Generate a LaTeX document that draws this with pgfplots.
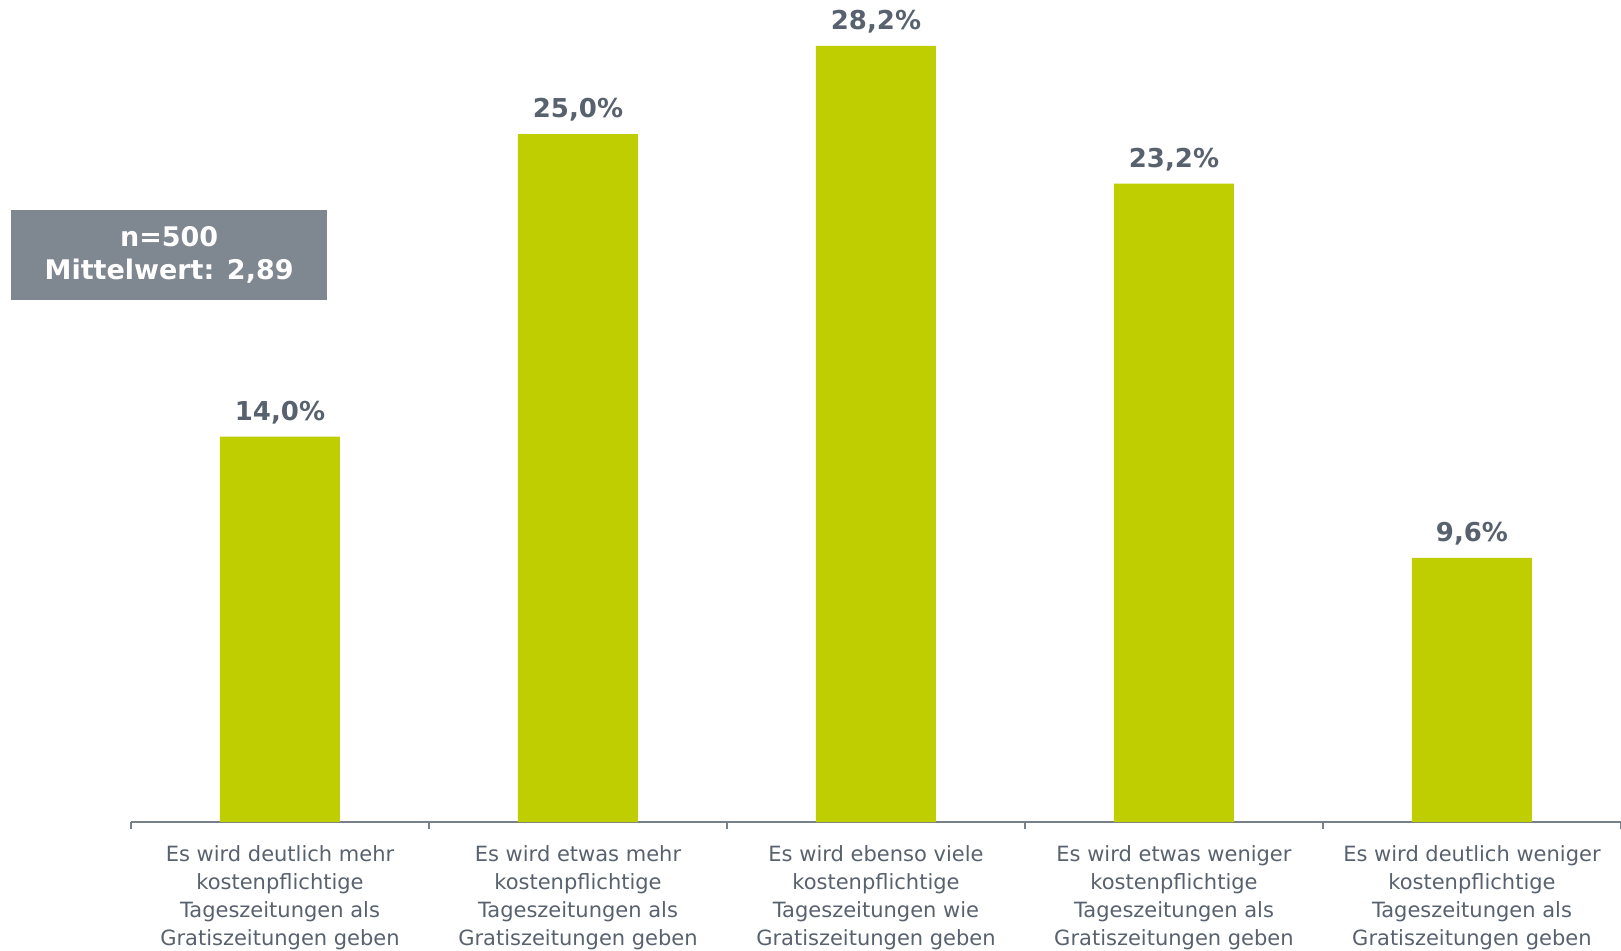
\documentclass[border=0pt]{standalone}
\usepackage{fontspec}
\setmainfont{DejaVu Sans}
\usepackage{pgfplots}
\pgfplotsset{compat=1.18}
\definecolor{barc}{RGB}{191,206,0}
\definecolor{txtc}{RGB}{88,98,110}
\definecolor{boxc}{RGB}{127,135,144}
\definecolor{linec}{RGB}{120,128,138}
\begin{document}
\begin{tikzpicture}
\begin{axis}[
    scale only axis,
    width=1490pt, height=822pt,
    ybar, bar width=120pt,
    ymin=0, ymax=29.87,
    xmin=-0.5, xmax=4.5,
    axis x line=bottom, axis y line=none,
    axis line style={-, linec, line width=1.2pt},
    xtick={0,1,2,3,4},
    major tick length=0pt,
    minor xtick={-0.5,0.5,1.5,2.5,3.5,4.5},
    minor tick length=7pt,
    tick align=outside,
    minor tick style={linec, line width=1.2pt},
    xticklabels={
      {Es wird deutlich mehr\\kostenpflichtige\\Tageszeitungen als\\Gratiszeitungen geben},
      {Es wird etwas mehr\\kostenpflichtige\\Tageszeitungen als\\Gratiszeitungen geben},
      {Es wird ebenso viele\\kostenpflichtige\\Tageszeitungen wie\\Gratiszeitungen geben},
      {Es wird etwas weniger\\kostenpflichtige\\Tageszeitungen als\\Gratiszeitungen geben},
      {Es wird deutlich weniger\\kostenpflichtige\\Tageszeitungen als\\Gratiszeitungen geben}},
    xticklabel style={align=center, text=txtc, font=\fontsize{21}{28}\selectfont, yshift=-20pt},
    nodes near coords={\pgfmathprintnumber[fixed,fixed zerofill,precision=1,use comma,assume math mode=true]{\pgfplotspointmeta}\%},
    every node near coord/.append style={text=txtc, font=\fontsize{26}{28}\bfseries, yshift=9pt},
    clip=false,
]
\addplot[fill=barc, draw=none] coordinates {(0,14.0) (1,25.0) (2,28.2) (3,23.2) (4,9.6)};
\node[fill=boxc, text=white, font=\fontsize{27}{33}\selectfont\bfseries, align=center,
      minimum width=316pt, minimum height=90pt, inner sep=0pt]
      at (axis cs:-0.372,20.6) {n=500\\Mittelwert: 2,89};
\end{axis}
\pgfresetboundingbox
\path[use as bounding box] (-131pt,-128pt) rectangle (1490pt,822pt);
\end{tikzpicture}
\end{document}
